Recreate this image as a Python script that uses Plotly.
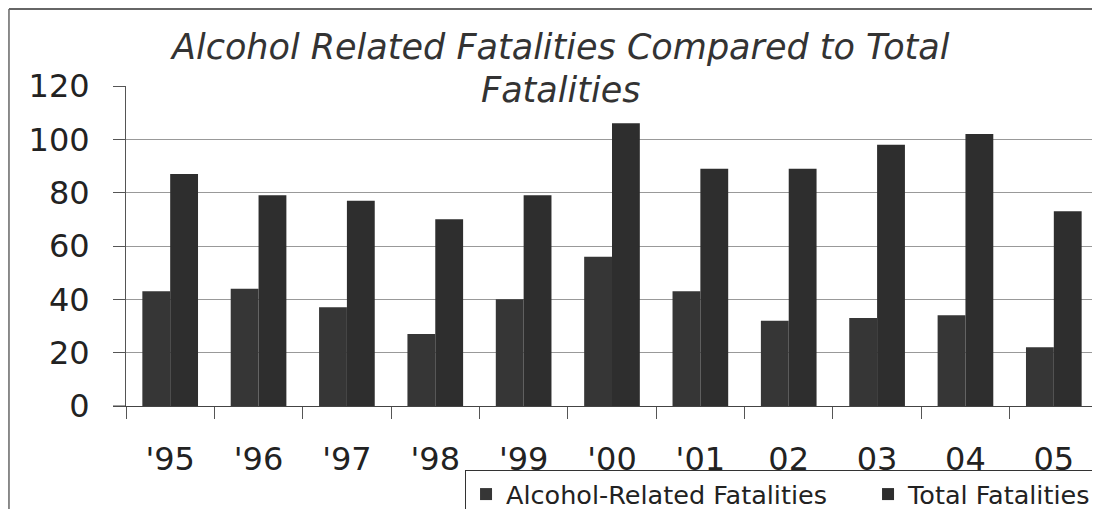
import plotly.graph_objects as go

years = ["'95", "'96", "'97", "'98", "'99", "'00", "'01", "02", "03", "04", "05"]
alcohol = [43, 44, 37, 27, 40, 56, 43, 32, 33, 34, 22]
total = [87, 79, 77, 70, 79, 106, 89, 89, 98, 102, 73]
title_lines = ["Alcohol Related Fatalities Compared to Total", "Fatalities"]

font = "DejaVu Sans, sans-serif"

fig = go.Figure()
fig.add_trace(go.Bar(x=years, y=alcohol, name="Alcohol-Related Fatalities",
                     marker=dict(color="#363636", line=dict(width=0))))
fig.add_trace(go.Bar(x=years, y=total, name="Total Fatalities",
                     marker=dict(color="#2e2e2e", line=dict(width=0))))

fig.update_layout(
    width=1100, height=509,
    margin=dict(l=118, r=10, t=78, b=111, autoexpand=False),
    paper_bgcolor="white", plot_bgcolor="white",
    barmode="group", bargap=0.37, bargroupgap=0,
    font=dict(family=font, color="#222"),
    legend=dict(orientation="h", x=0.3488, y=-0.2, xanchor="left", yanchor="top",
                bordercolor="#333", borderwidth=1, bgcolor="white",
                font=dict(size=25.5, family=font, color="#222"),
                itemwidth=30, traceorder="normal",
                entrywidth=357, entrywidthmode="pixels"),
    xaxis=dict(type="category", showgrid=False, showline=True, linecolor="#444",
               ticks="outside", tickson="boundaries", ticklen=12, tickcolor="#555",
               tickfont=dict(size=32, family=font, color="#222"),
               ticklabelstandoff=25),
    yaxis=dict(range=[0, 120], dtick=20, showgrid=True, gridcolor="#999", gridwidth=1,
               showline=True, linecolor="#555", ticks="outside", ticklen=12,
               tickcolor="#555", zeroline=False,
               tickfont=dict(size=32, family=font, color="#222"),
               ticklabelstandoff=17),
)

# title (two centred italic lines)
for txt, yp in zip(title_lines, [47, 90]):
    fig.add_annotation(text="<i>" + txt + "</i>", xref="paper", yref="paper",
                       x=(560 - 126) / 972, y=(406 - yp) / 320,
                       xanchor="center", yanchor="middle", showarrow=False,
                       font=dict(size=35, family=font, color="#333"))

# x-axis line continues left to the y tick end
fig.add_shape(type="line", xref="paper", yref="paper", x0=-13 / 972, x1=0,
              y0=0, y1=0, line=dict(color="#444", width=1))

# outer chart frame
fig.add_shape(type="line", xref="paper", yref="paper", x0=-0.1204, x1=1.02,
              y0=1.2406, y1=1.2406, line=dict(color="#666", width=2))
fig.add_shape(type="line", xref="paper", yref="paper", x0=-0.1204, x1=-0.1204,
              y0=1.2406, y1=-0.36, line=dict(color="#666", width=1.5))

fig.write_html("out.html")
